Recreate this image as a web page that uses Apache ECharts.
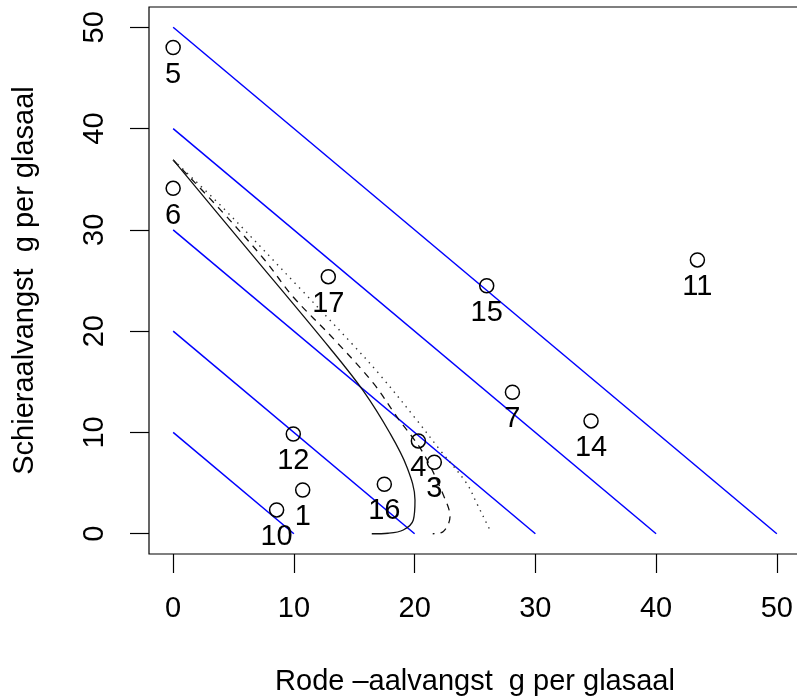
<!DOCTYPE html>
<html>
<head>
<meta charset="utf-8">
<script src="https://cdn.jsdelivr.net/npm/echarts@6/dist/echarts.min.js"></script>
<style>
html,body{margin:0;padding:0;background:#fff;}
#chart{width:797px;height:697px;}
</style>
</head>
<body>
<div id="chart"></div>
<script>
// ---- data ----
const xTicks = [0, 10, 20, 30, 40, 50];
const yTicks = [0, 10, 20, 30, 40, 50];
const pointIds = ['1', '3', '4', '5', '6', '7', '10', '11', '12', '14', '15', '16', '17'];
const pointX = [10.73, 21.63, 20.31, 0.0, 0.0, 28.10, 8.57, 43.42, 9.95, 34.61, 25.97, 17.49, 12.85];
const pointY = [4.32, 7.06, 9.16, 48.0, 34.1, 13.97, 2.35, 27.03, 9.85, 11.14, 24.48, 4.89, 25.38];
const diagonalTotals = [10, 20, 30, 40, 50];
const solidX = [0, 6.22, 12.99, 15.75, 17.96, 19.35, 20.03, 19.89, 19.06, 17.8, 16.45];
const solidY = [36.9, 28.0, 18.31, 14.1, 9.92, 6.62, 3.34, 1.36, 0.37, 0.05, 0];
const dashedX = [0, 3.9, 7.6, 9.93, 13.4, 16.58, 18.52, 20.7, 22.55, 22.93, 22.35, 21.5];
const dashedY = [36.9, 32.0, 27.0, 23.4, 19.1, 14.86, 11.56, 7.98, 3.34, 1.69, 0.2, 0];
const dottedX = [0, 4.02, 10.36, 14.9, 17.13, 20.17, 22.1, 24.3, 25.14, 26.1, 26.3];
const dottedY = [36.9, 32.3, 24.4, 18.64, 15.68, 11.23, 8.27, 4.99, 3.01, 0.7, 0.2];

const FONT = 'Liberation Sans';
const zip = (a, b) => a.map((v, i) => [v, b[i]]);

const series = [];
diagonalTotals.forEach(t => {
  series.push({
    type: 'line', data: [[0, t], [t, 0]], symbol: 'none', silent: true,
    lineStyle: {color: '#0000ff', width: 1.5}, z: 2
  });
});
series.push({
  type: 'line', data: zip(solidX, solidY), symbol: 'none', smooth: 0.35,
  lineStyle: {color: '#111', width: 1.3}, z: 3
});
series.push({
  type: 'line', data: zip(dashedX, dashedY), symbol: 'none', smooth: 0.35,
  lineStyle: {color: '#111', width: 1.3, type: [7, 6]}, z: 3
});
series.push({
  type: 'line', data: zip(dottedX, dottedY), symbol: 'none', smooth: 0.35,
  lineStyle: {color: '#333', width: 1.4, type: [1.4, 5]}, z: 3
});
series.push({
  type: 'scatter',
  data: pointX.map((x, i) => ({value: [x, pointY[i]], name: pointIds[i]})),
  symbol: 'circle', symbolSize: 14,
  itemStyle: {color: 'rgba(0,0,0,0)', borderColor: '#000', borderWidth: 1.5, opacity: 1},
  label: {
    show: true, position: 'bottom', distance: 5,
    formatter: p => p.name,
    fontFamily: FONT, fontSize: 29, color: '#000'
  },
  emphasis: {disabled: true},
  z: 4
});

const chart = echarts.init(document.getElementById('chart'));
chart.setOption({
  animation: false,
  grid: {left: 149, top: 7, width: 652, height: 547, outerBoundsMode: 'none', containLabel: false,
         show: true, borderColor: '#000', borderWidth: 1.2, backgroundColor: 'transparent'},
  xAxis: {
    type: 'value', min: -2, max: 52,
    name: 'Rode \u2013aalvangst  g per glasaal', nameLocation: 'middle', nameGap: 113,
    nameTextStyle: {fontFamily: FONT, fontSize: 29, color: '#000'},
    axisLine: {show: false, onZero: false},
    axisTick: {show: true, length: 19, customValues: xTicks, lineStyle: {color: '#000', width: 1.2}},
    axisLabel: {customValues: xTicks, margin: 40, fontFamily: FONT, fontSize: 29, color: '#000'},
    splitLine: {show: false}
  },
  yAxis: {
    type: 'value', min: -2, max: 52,
    name: 'Schieraalvangst  g per glasaal', nameLocation: 'middle', nameGap: 110,
    nameTextStyle: {fontFamily: FONT, fontSize: 29, color: '#000'},
    axisLine: {show: false, onZero: false},
    axisTick: {show: true, length: 19, customValues: yTicks, lineStyle: {color: '#000', width: 1.2}},
    axisLabel: {customValues: yTicks, margin: 40, rotate: 90, fontFamily: FONT, fontSize: 29, color: '#000'},
    splitLine: {show: false}
  },
  series: series
});
</script>
</body>
</html>
